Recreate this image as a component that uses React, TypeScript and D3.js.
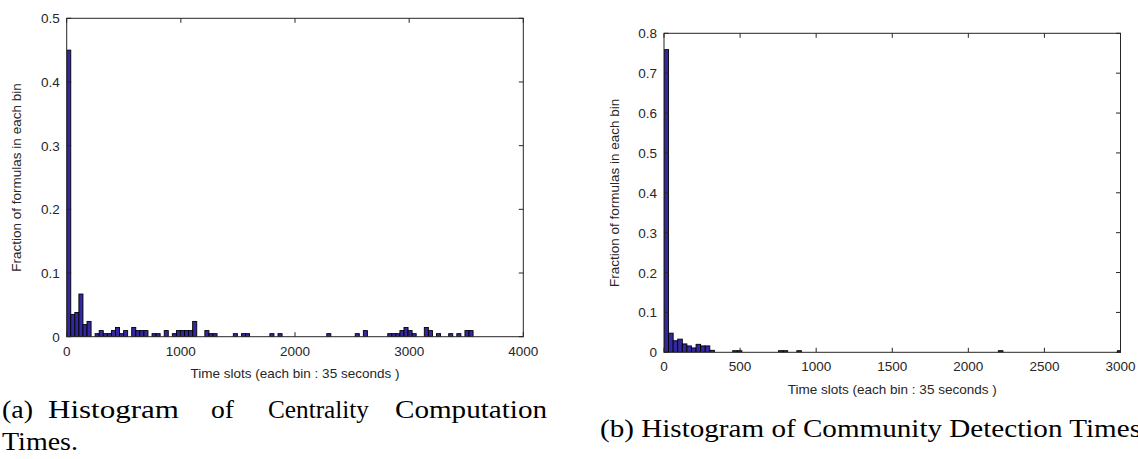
import React from 'react';
import * as d3 from 'd3';

// ---- data ----
const leftBinWidth = 35.6;
const leftFractions = [
  0.45, 0.035, 0.038, 0.067, 0.019, 0.024, 0, 0.0048, 0.0096, 0.0048,
  0.0048, 0.0096, 0.0144, 0.0048, 0.0096, 0, 0.0144, 0.0096, 0.0096, 0.0096,
  0, 0.0048, 0.0048, 0, 0.0096, 0, 0.0048, 0.0096, 0.0096, 0.0096,
  0.0096, 0.024, 0, 0, 0.0096, 0.0048, 0.0048, 0, 0, 0,
  0, 0.0048, 0, 0.0048, 0.0048, 0, 0, 0, 0, 0,
  0.0048, 0, 0.0048, 0, 0, 0, 0, 0, 0, 0,
  0, 0, 0, 0, 0.0048, 0, 0, 0, 0, 0,
  0, 0.0048, 0, 0.0096, 0, 0, 0, 0, 0, 0.0048,
  0.0048, 0.0048, 0.0096, 0.0144, 0.0096, 0.0048, 0, 0, 0.0144, 0.0096,
  0, 0.0048, 0, 0, 0.0048, 0, 0.0048, 0, 0.0096, 0.0096,
];
const rightBinWidth = 30.1;
const rightFractions = [
  0.759, 0.048, 0.029, 0.033, 0.021, 0.016, 0.011, 0.02, 0.016, 0.016,
  0.005, 0, 0, 0, 0, 0.004, 0.004, 0, 0, 0,
  0, 0, 0, 0, 0, 0.004, 0.004, 0, 0, 0.004,
  0, 0, 0, 0, 0, 0, 0, 0, 0, 0,
  0, 0, 0, 0, 0, 0, 0, 0, 0, 0,
  0, 0, 0, 0, 0, 0, 0, 0, 0, 0,
  0, 0, 0, 0, 0, 0, 0, 0, 0, 0,
  0, 0, 0, 0.004, 0, 0, 0, 0, 0, 0,
  0, 0, 0, 0, 0, 0, 0, 0, 0, 0,
  0, 0, 0, 0, 0, 0, 0, 0, 0, 0.004,
];
const leftXTicks = [0, 1000, 2000, 3000, 4000];
const leftYTicks = [0, 0.1, 0.2, 0.3, 0.4, 0.5];
const rightXTicks = [0, 500, 1000, 1500, 2000, 2500, 3000];
const rightYTicks = [0, 0.1, 0.2, 0.3, 0.4, 0.5, 0.6, 0.7, 0.8];
const xLabel = 'Time slots (each bin : 35 seconds )';
const yLabel = 'Fraction of formulas in each bin';

const BAR_FILL = '#3328a0';
const AXIS_FONT = '"Liberation Sans", Arial, sans-serif';
const CAP_FONT = '"Liberation Serif", "Times New Roman", serif';

type PanelProps = {
  id: string;
  fractions: number[];
  binWidth: number;
  xDomain: [number, number];
  yDomain: [number, number];
  xRange: [number, number];
  yRange: [number, number];
  xTicks: number[];
  yTicks: number[];
  yLabelX: number;
  xLabelY: number;
};

function Panel(p: PanelProps) {
  const x = d3.scaleLinear().domain(p.xDomain).range(p.xRange);
  const y = d3.scaleLinear().domain(p.yDomain).range(p.yRange);
  const [x0, x1] = p.xRange;
  const [yb, yt] = p.yRange;
  const tl = 4.5;
  const fmtY = (v: number) => (v === 0 ? '0' : d3.format('.1f')(v));
  return (
    <g>
      <defs>
        <clipPath id={p.id}>
          <rect x={x0} y={yt} width={x1 - x0} height={yb - yt} />
        </clipPath>
      </defs>
      <g clipPath={`url(#${p.id})`}>
        {p.fractions.map((v, k) =>
          v > 0 ? (
            <rect
              key={k}
              x={x(k * p.binWidth)}
              y={y(v)}
              width={x((k + 1) * p.binWidth) - x(k * p.binWidth)}
              height={y(0) - y(v)}
              fill={BAR_FILL}
              stroke="#000"
              strokeWidth={0.9}
            />
          ) : null
        )}
      </g>
      <rect x={x0} y={yt} width={x1 - x0} height={yb - yt} fill="none" stroke="#262626" strokeWidth={1} />
      {p.xTicks.map((t) => (
        <g key={'xt' + t}>
          <line x1={x(t)} x2={x(t)} y1={yb} y2={yb - tl} stroke="#262626" />
          <line x1={x(t)} x2={x(t)} y1={yt} y2={yt + tl} stroke="#262626" />
          <text x={x(t)} y={yb + 19} textAnchor="middle" fontFamily={AXIS_FONT} fontSize={13.5} fill="#262626">
            {t}
          </text>
        </g>
      ))}
      {p.yTicks.map((t) => (
        <g key={'yt' + t}>
          <line x1={x0} x2={x0 + tl} y1={y(t)} y2={y(t)} stroke="#262626" />
          <line x1={x1} x2={x1 - tl} y1={y(t)} y2={y(t)} stroke="#262626" />
          <text x={x0 - 7} y={y(t) + 5} textAnchor="end" fontFamily={AXIS_FONT} fontSize={13.5} fill="#262626">
            {fmtY(t)}
          </text>
        </g>
      ))}
      <text
        x={(x0 + x1) / 2}
        y={p.xLabelY}
        textAnchor="middle"
        fontFamily={AXIS_FONT}
        fontSize={13.5}
        fill="#262626"
      >
        {xLabel}
      </text>
      <text
        transform={`translate(${p.yLabelX},${(yb + yt) / 2}) rotate(-90)`}
        textAnchor="middle"
        fontFamily={AXIS_FONT}
        fontSize={13.5}
        fill="#262626"
      >
        {yLabel}
      </text>
    </g>
  );
}

const captionA1 = [
  { w: '(a)', x0: 2, x1: 33 },
  { w: 'Histogram', x0: 48, x1: 179 },
  { w: 'of', x0: 211, x1: 234 },
  { w: 'Centrality', x0: 268, x1: 369 },
  { w: 'Computation', x0: 395, x1: 547 },
];
const captionA2 = 'Times.';
const captionB = '(b) Histogram of Community Detection Times';

export default function App() {
  return (
    <svg width={1138} height={459} style={{ position: 'absolute', left: 0, top: 0, background: '#fff' }}>
      <rect width={1138} height={459} fill="#fff" />
      <Panel
        id="clipA"
        fractions={leftFractions}
        binWidth={leftBinWidth}
        xDomain={[0, 4000]}
        yDomain={[0, 0.5]}
        xRange={[66.7, 523.3]}
        yRange={[336.7, 18.3]}
        xTicks={leftXTicks}
        yTicks={leftYTicks}
        yLabelX={21}
        xLabelY={378}
      />
      <Panel
        id="clipB"
        fractions={rightFractions}
        binWidth={rightBinWidth}
        xDomain={[0, 3000]}
        yDomain={[0, 0.8]}
        xRange={[664, 1120.5]}
        yRange={[352.3, 33.3]}
        xTicks={rightXTicks}
        yTicks={rightYTicks}
        yLabelX={619}
        xLabelY={394}
      />
      {captionA1.map((c) => (
        <text
          key={c.w}
          x={c.x0}
          y={418}
          textLength={c.x1 - c.x0}
          lengthAdjust="spacingAndGlyphs"
          fontFamily={CAP_FONT}
          fontSize={25}
          fill="#000"
        >
          {c.w}
        </text>
      ))}
      <text x={2} y={450} textLength={76} lengthAdjust="spacingAndGlyphs" fontFamily={CAP_FONT} fontSize={25} fill="#000">
        {captionA2}
      </text>
      <text x={600} y={437} textLength={541} lengthAdjust="spacingAndGlyphs" fontFamily={CAP_FONT} fontSize={25} fill="#000">
        {captionB}
      </text>
    </svg>
  );
}
